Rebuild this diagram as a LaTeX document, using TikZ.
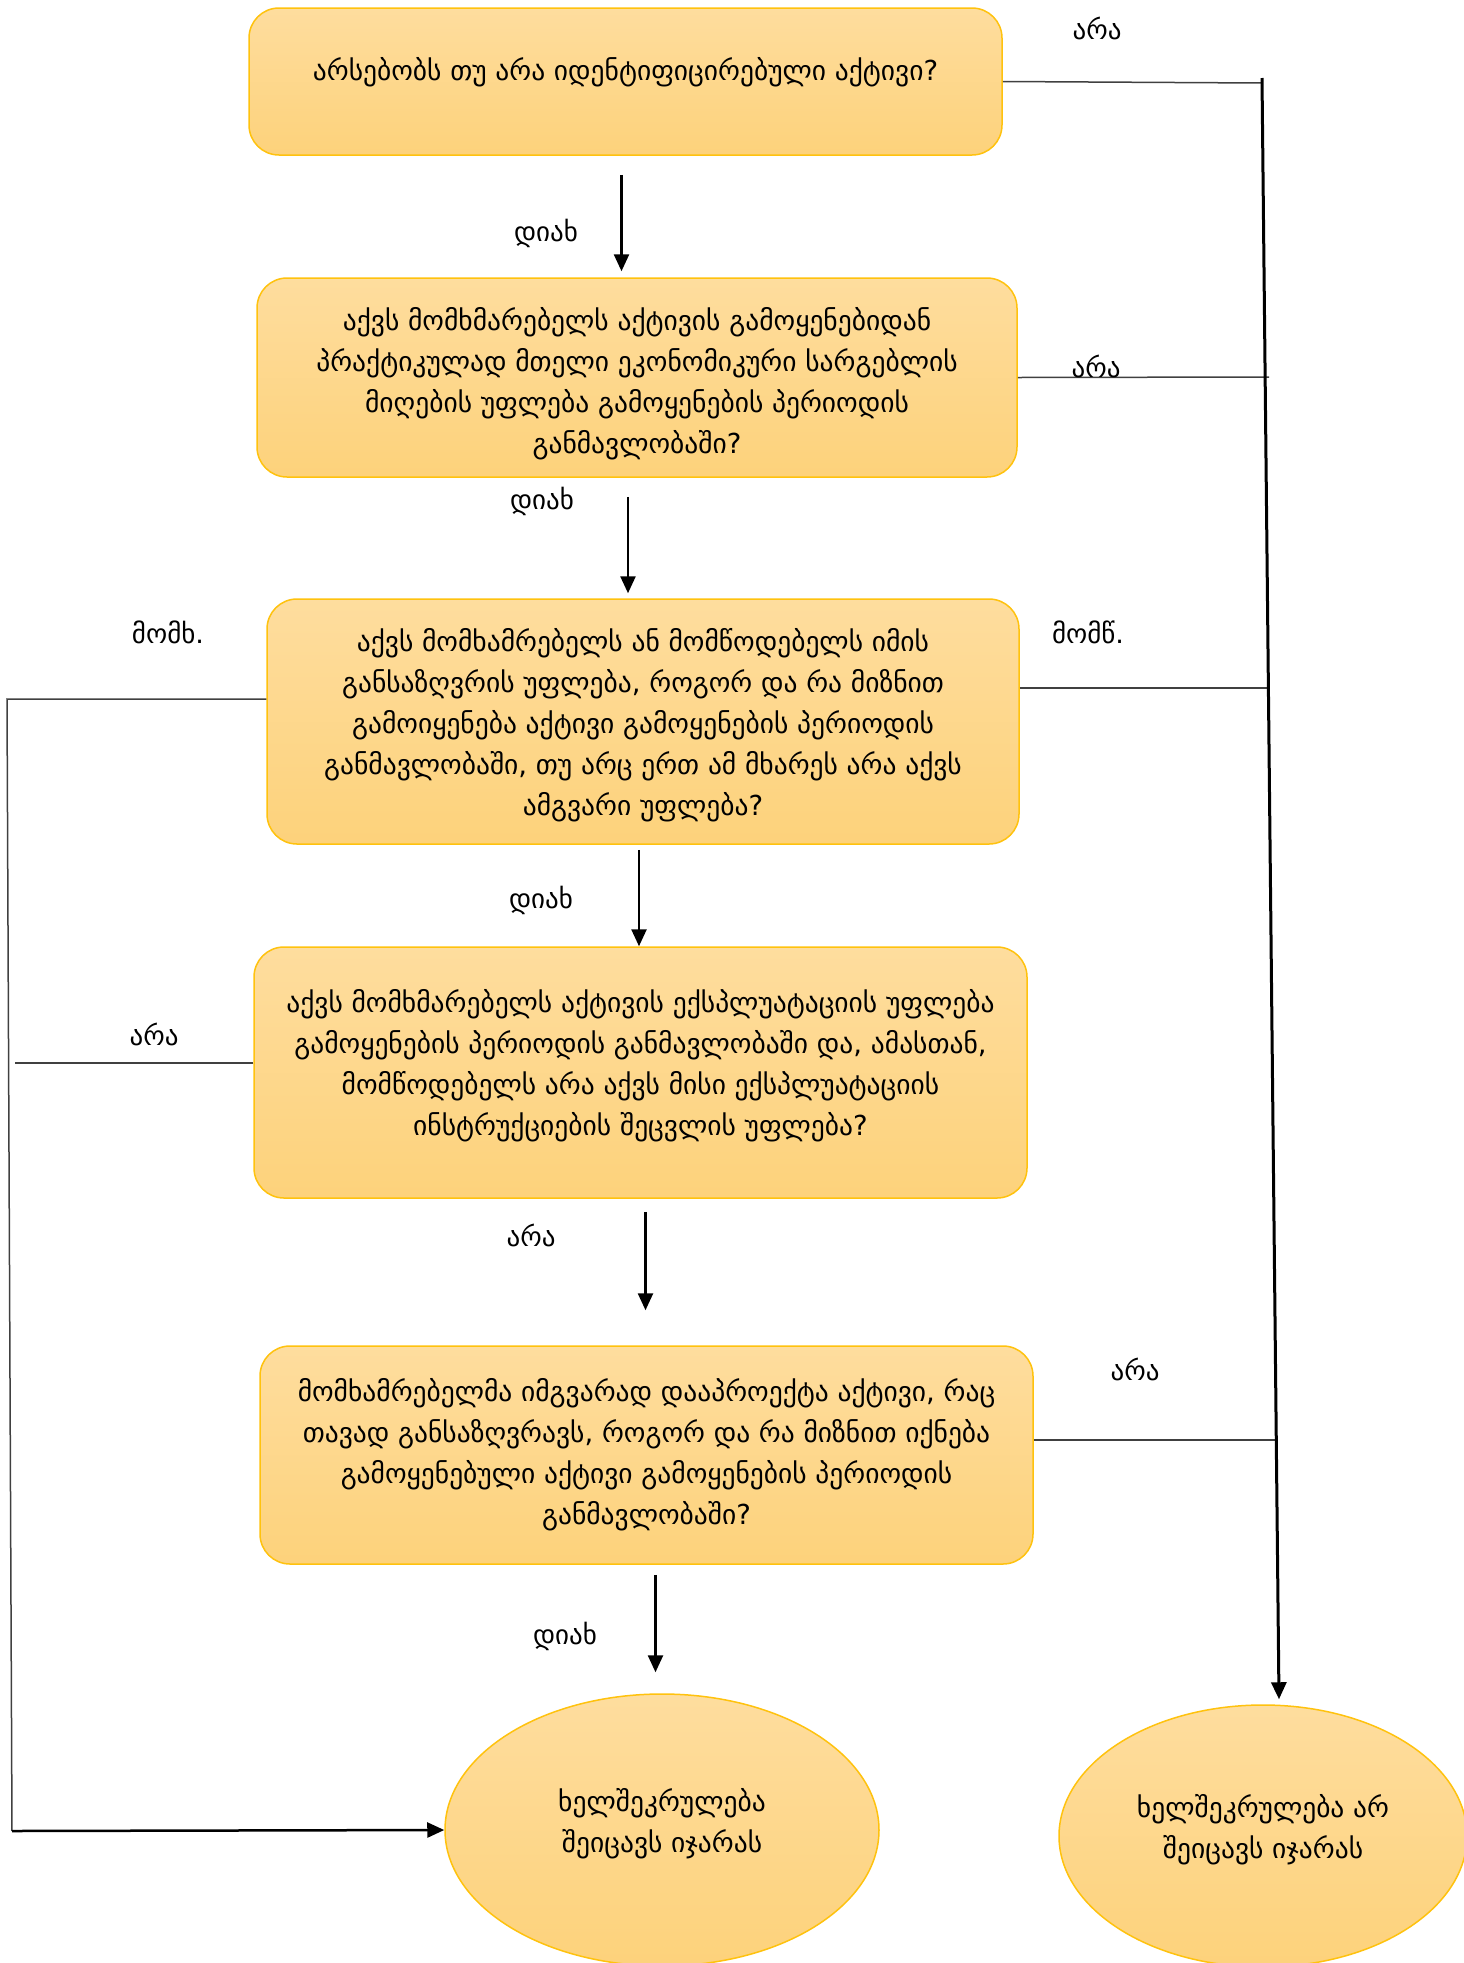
\documentclass[tikz,border=0pt]{standalone}
\usepackage{fontspec}
\setmainfont{DejaVu Sans}
\usepackage{tikz}
\usetikzlibrary{
    shapes.geometric,      % Ellipse outcomes
    arrows.meta,           % Modern arrow tips
    calc                   % Coordinate calculations
}

\definecolor{boxtop}{HTML}{FEDD9E}
\definecolor{boxbot}{HTML}{FDD27B}
\definecolor{boxedge}{HTML}{FFC20E}

\newcommand{\qfont}{\fontsize{27.5}{41}\selectfont}
\newcommand{\afont}{\fontsize{27}{32}\selectfont}
% lines of a box, raised or lowered a little (size kept)
\newcommand{\lifted}[2]{\raisebox{#1}[\height][\depth]{\begin{tabular}{@{}c@{}}#2\end{tabular}}}

\tikzset{
    question/.style={rectangle, rounded corners=30pt, draw=boxedge, line width=1.5pt,
        top color=boxtop, bottom color=boxbot, align=center, font=\qfont},
    outcome/.style={ellipse, draw=boxedge, line width=1.5pt,
        top color=boxtop, bottom color=boxbot, align=center, font=\qfont},
    flow/.style={line width=2.5pt, -{Triangle[length=17pt,width=15pt]}},
    branch/.style={line width=1.5pt, black!75},
    answer/.style={font=\afont}
}

\begin{document}
\begin{tikzpicture}[x=1pt, y=-1pt]
    \useasboundingbox (0,0) rectangle (1464,1963);

    % Questions
    \node[question, minimum width=753pt, minimum height=147pt] (b1) at (625.5,81.5)
        {\lifted{9pt}{არსებობს თუ არა იდენტიფიცირებული აქტივი?}};
    \node[question, minimum width=760pt, minimum height=199pt] (b2) at (637,377.5)
        {\lifted{-6pt}{აქვს მომხმარებელს აქტივის გამოყენებიდან\\
         პრაქტიკულად მთელი ეკონომიკური სარგებლის\\
         მიღების უფლება გამოყენების პერიოდის\\
         განმავლობაში?}};
    \node[question, minimum width=752pt, minimum height=245pt] (b3) at (643,721.5)
        {\lifted{-4pt}{აქვს მომხამრებელს ან მომწოდებელს იმის\\
         განსაზღვრის უფლება, როგორ და რა მიზნით\\
         გამოიყენება აქტივი გამოყენების პერიოდის\\
         განმავლობაში, თუ არც ერთ ამ მხარეს არა აქვს\\
         ამგვარი უფლება?}};
    \node[question, minimum width=773pt, minimum height=251pt] (b4) at (640.5,1072.5)
        {\lifted{7pt}{აქვს მომხმარებელს აქტივის ექსპლუატაციის უფლება\\
         გამოყენების პერიოდის განმავლობაში და, ამასთან,\\
         მომწოდებელს არა აქვს მისი ექსპლუატაციის\\
         ინსტრუქციების შეცვლის უფლება?}};
    \node[question, minimum width=773pt, minimum height=218pt] (b5) at (646.5,1455)
        {\lifted{0pt}{მომხამრებელმა იმგვარად დააპროექტა აქტივი, რაც\\
         თავად განსაზღვრავს, როგორ და რა მიზნით იქნება\\
         გამოყენებული აქტივი გამოყენების პერიოდის\\
         განმავლობაში?}};

    % Outcomes
    \node[outcome, minimum width=434pt, minimum height=272pt] (e1) at (662,1830)
        {\lifted{6pt}{ხელშეკრულება\\შეიცავს იჯარას}};
    \node[outcome, minimum width=408pt, minimum height=262pt] (e2) at (1263,1836)
        {\lifted{6pt}{ხელშეკრულება არ\\შეიცავს იჯარას}};

    % Main flow
    \draw[flow, shorten <=19pt, shorten >=6pt] ([xshift=-4pt]b1.south) -- ([xshift=-4pt]b1.south |- b2.north);
    \draw[flow, shorten <=19pt, shorten >=5pt] ([xshift=-9pt]b2.south) -- ([xshift=-9pt]b2.south |- b3.north);
    \draw[flow, shorten <=5pt] ([xshift=-4pt]b3.south) -- ([xshift=-4pt]b3.south |- b4.north);
    \draw[flow, shorten <=13pt, shorten >=35pt] ([xshift=5pt]b4.south) -- ([xshift=5pt]b4.south |- b5.north);
    \draw[flow, shorten <=10pt, shorten >=21pt] ([xshift=9pt]b5.south) -- ([xshift=9pt]b5.south |- e1.north);

    % Right branch
    \coordinate (rtop) at (1262,78);
    \coordinate (r1) at (1262,83);
    \coordinate (r2) at (1269,377);
    \coordinate (r3) at (1267,688);
    \coordinate (r5) at (1275,1440);
    \draw[branch] (b1.east) -- (r1);
    \draw[branch] (b2.east) -- (r2);
    \draw[branch] (b3.east |- r3) -- (r3);
    \draw[branch] (b5.east |- r5) -- (r5);
    \draw[flow, line width=3pt] (rtop) -- ([xshift=16pt,yshift=5pt]e2.north);

    % Left branch
    \coordinate (l1) at (7,699);
    \coordinate (l2) at (12,1831);
    \coordinate (l4) at (15,1063);
    \draw[branch] (b3.west |- l1) -- (l1) -- (l2);
    \draw[flow] (l2) -- (e1.west);
    \draw[branch] (b4.west |- l4) -- (l4);

    % Answers
    \node[answer] (no1) at (1097,28) {არა};
    \node[answer] (yes1) at (546,233) {დიახ};
    \node[answer] (no2) at (1096,366) {არა};
    \node[answer] (yes2) at (542,501) {დიახ};
    \node[answer] (lessee) at (168,632) {მომხ.};
    \node[answer] (supplier) at (1088,632) {მომწ.};
    \node[answer] (yes3) at (541,900) {დიახ};
    \node[answer] (no4) at (154,1034) {არა};
    \node[answer] (no4b) at (531,1235) {არა};
    \node[answer] (no5) at (1135,1369) {არა};
    \node[answer] (yes5) at (565,1636) {დიახ};
\end{tikzpicture}
\end{document}
